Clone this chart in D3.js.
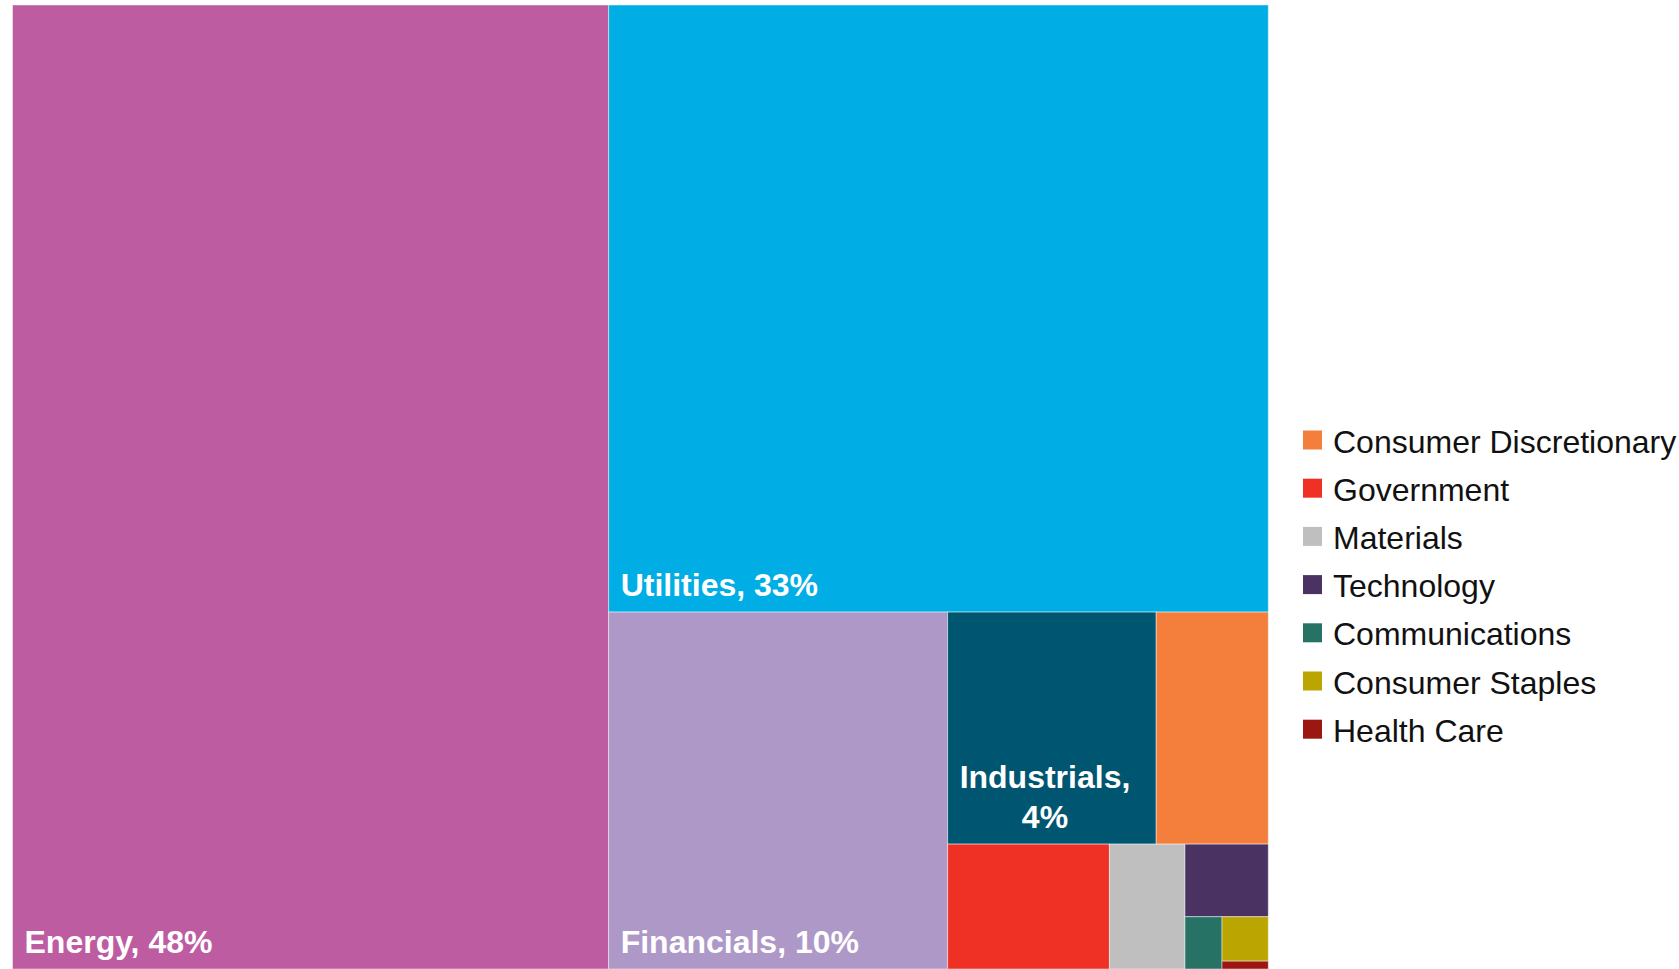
<!DOCTYPE html>
<html>
<head>
<meta charset="utf-8">
<script src="https://cdn.jsdelivr.net/npm/d3@7"></script>
<style>
  html, body { margin: 0; padding: 0; background: #ffffff; }
  svg { display: block; font-family: "Liberation Sans", Arial, sans-serif; }
</style>
</head>
<body>
<svg id="chart" width="1679" height="969"></svg>
<script>
// ---- data (share of total, %) ----
const categories = [
  "Energy", "Utilities", "Financials", "Industrials",
  "Consumer Discretionary", "Government", "Materials", "Technology",
  "Communications", "Consumer Staples", "Health Care"
];
const shares = [47.5, 33.1, 10.0, 4.0, 2.15, 1.67, 0.78, 0.5, 0.16, 0.17, 0.03];
const colors = [
  "#BE5CA2", "#00AEE5", "#AE98C8", "#005570",
  "#F47F3D", "#EE3124", "#BFBFBF", "#4A3362",
  "#267366", "#BBA500", "#9A1712"
];
const labelThreshold = 3.5; // categories below this share go to the legend

// ---- layout ----
const box = { x: 12.5, y: 5, w: 1255.8, h: 964 };
const svg = d3.select("#chart");

const root = d3.hierarchy({
  children: categories.map((c, i) => ({ name: c, value: shares[i], color: colors[i] }))
}).sum(d => d.value || 0);

d3.treemap()
  .tile(d3.treemapSquarify.ratio(1))
  .size([box.w, box.h])
  .round(false)(root);

const g = svg.append("g").attr("transform", `translate(${box.x},${box.y})`);

const cells = g.selectAll("g.cell")
  .data(root.leaves())
  .join("g")
  .attr("class", "cell");

cells.append("rect")
  .attr("x", d => d.x0)
  .attr("y", d => d.y0)
  .attr("width", d => d.x1 - d.x0)
  .attr("height", d => d.y1 - d.y0)
  .attr("fill", d => d.data.color)
  .attr("stroke", "rgba(255,255,255,0.45)")
  .attr("stroke-width", 1);

const fmt = d3.format(".0f");
const pad = 12, bottomPad = 16.5, lineH = 40;

cells.filter(d => d.data.value >= labelThreshold).each(function(d) {
  const cell = d3.select(this);
  const full = `${d.data.name}, ${fmt(d.data.value)}%`;
  const t = cell.append("text")
    .attr("x", d.x0 + pad)
    .attr("y", d.y1 - bottomPad)
    .attr("fill", "#ffffff")
    .attr("font-weight", "bold")
    .attr("font-size", 32)
    .text(full);
  const avail = (d.x1 - d.x0) - 2 * pad;
  if (t.node().getComputedTextLength() > avail) {
    t.remove();
    const lines = [`${d.data.name},`, `${fmt(d.data.value)}%`];
    const widths = lines.map(l => {
      const tt = cell.append("text").attr("font-weight", "bold").attr("font-size", 32).text(l);
      const w = tt.node().getComputedTextLength();
      tt.remove();
      return w;
    });
    const blockW = d3.max(widths);
    const cx = d.x0 + pad + blockW / 2;
    lines.forEach((l, i) => {
      cell.append("text")
        .attr("x", cx)
        .attr("y", d.y1 - bottomPad - (lines.length - 1 - i) * lineH)
        .attr("text-anchor", "middle")
        .attr("fill", "#ffffff")
        .attr("font-weight", "bold")
        .attr("font-size", 32)
        .text(l);
    });
  }
});

// ---- legend ----
const legendItems = root.leaves().filter(d => d.data.value < labelThreshold);
const legend = svg.append("g").attr("transform", "translate(1303,440)");
const rowH = 48.2, sq = 19;
const li = legend.selectAll("g").data(legendItems).join("g")
  .attr("transform", (d, i) => `translate(0,${i * rowH})`);
li.append("rect")
  .attr("x", 0).attr("y", -sq / 2)
  .attr("width", sq).attr("height", sq)
  .attr("fill", d => d.data.color);
li.append("text")
  .attr("x", 30).attr("y", 12.5)
  .attr("font-size", 32)
  .attr("fill", "#111111")
  .text(d => d.data.name);
</script>
</body>
</html>
